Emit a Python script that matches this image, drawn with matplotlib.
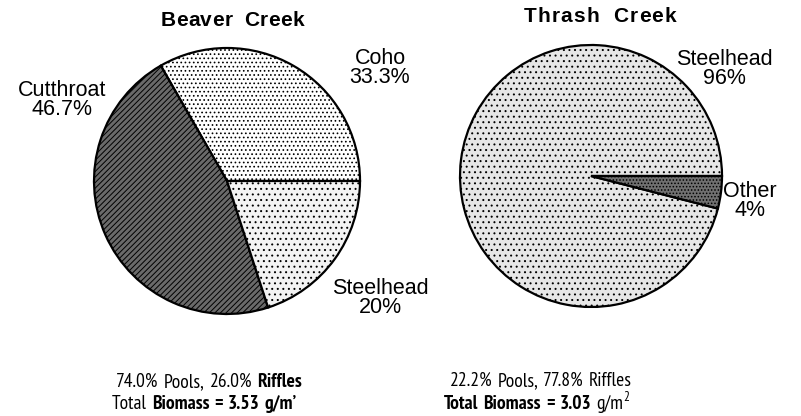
import matplotlib
matplotlib.use("Agg")
import matplotlib.pyplot as plt

# Beaver Creek biomass split (%)
beaver_species = ["Coho", "Cutthroat", "Steelhead"]
beaver_pct = [33.3, 46.7, 20.0]
beaver_labels = ["Coho\n33.3%", "Cutthroat\n46.7%", "Steelhead\n20%"]

# Thrash Creek biomass split (%)
thrash_species = ["Steelhead", "Other"]
thrash_pct = [96.0, 4.0]
thrash_labels = ["Steelhead\n96%", "Other\n4%"]

W, H = 801, 416
plt.rcParams["font.family"] = ["Liberation Sans", "DejaVu Sans"]
plt.rcParams["hatch.linewidth"] = 0.7

fig = plt.figure(figsize=(W / 100, H / 100), dpi=100)
ax = fig.add_axes([0, 0, 1, 1])
renderer = fig.canvas.get_renderer()


def Y(y):
    return H - y


def draw_pie(vals, center, r, faces, hatches):
    wedges, _ = ax.pie(vals, startangle=0, counterclock=True, center=center,
                       radius=r, frame=True,
                       wedgeprops=dict(edgecolor="black", linewidth=1.6))
    for w, fc, h in zip(wedges, faces, hatches):
        w.set_facecolor(fc)
        w.set_hatch(h)
    return wedges


draw_pie(beaver_pct, (227, Y(181)), 133,
         ["white", "#6a6a6a", "#f3f3f3"], ["....", "//////", "..."])
draw_pie(thrash_pct, (591, Y(176)), 131,
         ["#e6e6e6", "#707070"], ["...", "....."])

ax.set_xlim(0, W)
ax.set_ylim(0, H)
ax.set_aspect("equal")
ax.axis("off")


def width_of(s, **kw):
    t = ax.text(0, 0, s, **kw)
    w = t.get_window_extent(renderer).width
    t.remove()
    return w


def tracked(x0, x1, y, s, **kw):
    # spread single characters between x0 and x1 (letter-spaced title)
    ref = width_of("xx", **kw)
    ws = [width_of("x" + c + "x", **kw) - ref for c in s]
    extra = (x1 - x0 - sum(ws)) / (len(s) - 1)
    x = x0
    for c, w in zip(s, ws):
        if c != " ":
            ax.text(x, Y(y), c, ha="left", va="center", **kw)
        x += w + extra


tracked(161, 304, 20, "Beaver  Creek", fontsize=15, fontweight="bold")
tracked(524, 676, 17, "Thrash  Creek", fontsize=15, fontweight="bold")

label_pos_beaver = [(380, 68), (62, 100), (380, 298)]
label_pos_thrash = [(724, 69), (750, 201)]
for txt, (x, y) in zip(beaver_labels, label_pos_beaver):
    ax.text(x, Y(y), txt, ha="center", va="center", fontsize=15.5,
            linespacing=0.9)
for txt, (x, y) in zip(thrash_labels, label_pos_thrash):
    ax.text(x, Y(y), txt, ha="center", va="center", fontsize=15.5,
            linespacing=0.9)

narrow = ["PT Sans Narrow", "Roboto Condensed", "DejaVu Sans"]


def justified(x0, x1, yb, parts):
    # parts: (text, bold, size, raise_px, gap_before)
    objs = []
    for s, b, size, dy, gap in parts:
        t = ax.text(0, Y(yb) + dy, s, ha="left", va="baseline", fontsize=size,
                    family=narrow, fontweight="bold" if b else "normal")
        objs.append((t, t.get_window_extent(renderer).width, gap))
    ngaps = sum(1 for _, _, g in objs if g)
    used = sum(w for _, w, _ in objs)
    gap_w = max((x1 - x0 - used) / max(ngaps, 1), 5)
    x = (x0 + x1) / 2 - (used + gap_w * ngaps) / 2
    for t, w, g in objs:
        if g:
            x += gap_w
        t.set_x(x)
        x += w


R, B = False, True
fs = 14
justified(120, 298, 387, [("74.0%", R, fs, 0, False), ("Pools,", R, fs, 0, True),
                          ("26.0%", R, fs, 0, True), ("Riffles", B, fs, 0, True)])
justified(120, 289, 409, [("Total", R, fs, 0, False), ("Biomass", B, fs, 0, True),
                          ("=", B, fs, 0, True), ("3.53", B, fs, 0, True),
                          ("g/m’", B, fs, 0, True)])
justified(470, 612, 386, [("22.2%", R, fs, 0, False), ("Pools,", R, fs, 0, True),
                          ("77.8%", R, fs, 0, True), ("Riffles", R, fs, 0, True)])
justified(467, 606, 409, [("Total", B, fs, 0, False), ("Biomass", B, fs, 0, True),
                          ("=", B, fs, 0, True), ("3.03", B, fs, 0, True),
                          ("g/m", R, fs, 0, True), ("2", R, 9.5, 8, False)])

fig.savefig("out.png", dpi=100)
